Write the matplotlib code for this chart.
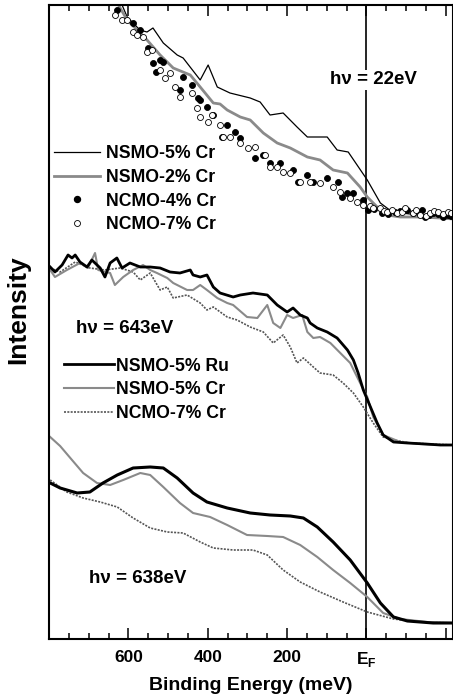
import numpy as np
import matplotlib
matplotlib.use("Agg")
import matplotlib.pyplot as plt
from matplotlib.lines import Line2D
from matplotlib.ticker import MultipleLocator, FixedLocator

plt.rcParams['font.family'] = ['Liberation Sans', 'DejaVu Sans']
plt.rcParams['font.weight'] = 'bold'
plt.rcParams['mathtext.fontset'] = 'custom'
plt.rcParams['mathtext.rm'] = 'Liberation Sans:bold'
plt.rcParams['mathtext.bf'] = 'Liberation Sans:bold'

# ---- hv = 22 eV (top) ----
e_nsmo5cr_22 = [618, 603, 571, 553, 538, 512, 477, 462, 419, 399, 376, 344, 293, 268, 243, 210,
                175, 149, 99, 74, 46, -2, -35, -65, -110, -161, -219]
i_nsmo5cr_22 = [636, 622, 609, 607, 611, 596, 584, 581, 559, 574, 552, 546, 541, 537, 524, 526,
                512, 502, 502, 489, 487, 459, 436, 427, 425, 423, 424]

e_nsmo2cr_22 = [628, 603, 553, 520, 487, 444, 419, 386, 369, 351, 318, 293, 260, 225, 192, 149,
                117, 84, 48, 16, -2, -27, -52, -85, -136, -186, -219]
i_nsmo2cr_22 = [636, 619, 599, 584, 571, 564, 552, 536, 535, 529, 522, 519, 506, 496, 491, 482,
                479, 469, 466, 452, 442, 432, 424, 422, 422, 421, 420]

e_ncmo4cr_22 = [628, 588, 571, 550, 538, 520, 512, 530, 462, 470, 439, 424, 419, 402, 386, 351,
                364, 331, 318, 281, 260, 243, 217, 185, 172, 149, 134, 99, 71, 61, 48, 33,
                8, -5, -20, -40, -55, -73, -85, -103, -116, -130, -141, -148, -158, -168, -180,
                -194, -206, -212]
i_ncmo4cr_22 = [629, 616, 609, 591, 576, 579, 577, 567, 562, 549, 554, 541, 539, 532, 524, 514,
                502, 507, 501, 481, 484, 476, 476, 469, 457, 464, 457, 461, 457, 442, 446, 446,
                439, 429, 430, 426, 425, 427, 428, 429, 426, 427, 429, 422, 424, 426, 425,
                422, 424, 423]

e_ncmo7cr_22 = [634, 616, 603, 588, 578, 563, 553, 540, 520, 507, 495, 482, 470, 439, 427, 419,
                399, 389, 369, 361, 344, 318, 298, 281, 255, 243, 225, 210, 192, 167, 142, 117,
                84, 66, 41, 23, 8, -10, -17, -35, -45, -52, -65, -78, -90, -98, -118, -125,
                -136, -150, -161, -170, -179, -192, -206, -214]
i_ncmo7cr_22 = [624, 619, 619, 607, 604, 602, 587, 589, 569, 561, 566, 552, 542, 546, 531, 522,
                517, 524, 514, 502, 502, 496, 491, 492, 484, 472, 472, 467, 466, 457, 457, 456,
                452, 447, 441, 437, 434, 433, 431, 431, 428, 427, 429, 426, 427, 431, 426, 429,
                424, 423, 426, 428, 427, 425, 427, 426]

# ---- hv = 643 eV (middle) ----
e_ru_643 = [797, 785, 767, 752, 742, 734, 722, 704, 692, 671, 659, 646, 629, 616, 596, 570, 545,
            520, 495, 470, 444, 437, 419, 402, 386, 369, 336, 318, 286, 250, 225, 200, 185, 167,
            149, 142, 124, 99, 74, 48, 33, 21, 8, -10, -27, -42, -68, -103, -148, -186, -219]
i_ru_643 = [372, 367, 374, 384, 381, 384, 377, 372, 379, 371, 362, 376, 381, 371, 376, 372, 372,
            371, 367, 366, 369, 364, 362, 364, 352, 346, 342, 344, 346, 344, 334, 327, 331, 324,
            321, 316, 311, 307, 301, 289, 279, 266, 249, 232, 216, 204, 197, 196, 195, 194, 194]

e_cr_643 = [797, 785, 755, 722, 702, 684, 676, 646, 634, 613, 588, 563, 545, 528, 502, 487, 452,
            437, 419, 402, 376, 351, 336, 301, 275, 250, 235, 217, 200, 185, 162, 149, 134, 117,
            91, 66, 41, 16, -2, -17, -42, -85, -136, -186, -219]
i_cr_643 = [369, 362, 369, 376, 371, 386, 369, 366, 354, 362, 369, 374, 369, 366, 361, 356, 349,
            349, 354, 349, 341, 336, 334, 322, 321, 334, 316, 311, 324, 321, 324, 307, 301, 302,
            296, 286, 276, 256, 242, 222, 204, 197, 195, 194, 194]

e_ncmo_643 = [797, 772, 734, 697, 659, 621, 588, 570, 545, 520, 502, 487, 452, 419, 402, 386, 351,
              326, 293, 260, 235, 210, 192, 175, 159, 134, 117, 84, 59, 33, 8, -17, -42, -68,
              -110, -161, -219]
i_ncmo_643 = [371, 367, 377, 371, 369, 371, 367, 359, 366, 349, 352, 341, 344, 336, 329, 332, 322,
              319, 312, 307, 296, 304, 292, 276, 281, 272, 266, 264, 256, 246, 232, 216, 202, 199,
              196, 195, 194]

# ---- hv = 638 eV (bottom) ----
e_ru_638 = [797, 772, 729, 697, 664, 628, 588, 545, 512, 477, 437, 402, 351, 293, 243, 192, 159,
            124, 84, 41, -2, -35, -68, -103, -168, -219]
i_ru_638 = [156, 151, 146, 147, 156, 164, 171, 172, 171, 161, 146, 137, 131, 126, 124, 123, 121,
            112, 97, 79, 56, 36, 22, 18, 16, 16]

e_cr_638 = [797, 772, 742, 714, 679, 646, 613, 570, 545, 512, 470, 437, 394, 351, 301, 250, 210,
            167, 124, 84, 41, -2, -42, -85, -153, -219]
i_cr_638 = [202, 193, 179, 166, 156, 154, 159, 166, 164, 152, 136, 126, 122, 114, 104, 103, 102,
            94, 82, 69, 56, 42, 26, 20, 17, 16]

e_ncmo_638 = [797, 755, 714, 671, 628, 588, 545, 502, 462, 419, 386, 336, 286, 250, 210, 167, 117,
              59, -2, -68, -136, -219]
i_ncmo_638 = [159, 147, 141, 137, 132, 121, 111, 107, 106, 97, 91, 89, 89, 84, 69, 57, 47,
              37, 27, 20, 17, 16]

xticks = [600, 400, 200, 0, -200]
xticklabels = ['600', '400', '200', r'$\mathrm{E}_\mathrm{F}$', '']

GRAY = '#8a8a8a'
DARK = '#555555'

fig = plt.figure(figsize=(4.53, 6.98), dpi=100)
ax = fig.add_axes([49 / 453, 59 / 698, 404 / 453, 634 / 698])

# top panel
ax.plot(e_nsmo5cr_22, i_nsmo5cr_22, color='black', lw=0.9)
ax.plot(e_nsmo2cr_22, i_nsmo2cr_22, color=GRAY, lw=2.0)
ax.plot(e_ncmo4cr_22, i_ncmo4cr_22, 'o', ms=4.3, mfc='black', mec='black', mew=0.6)
ax.plot(e_ncmo7cr_22, i_ncmo7cr_22, 'o', ms=4.3, mfc='white', mec='black', mew=0.6)

# middle panel
ax.plot(e_ncmo_643, i_ncmo_643, color=DARK, lw=1.2, ls=(0, (1.2, 0.8)))
ax.plot(e_cr_643, i_cr_643, color=GRAY, lw=1.5)
ax.plot(e_ru_643, i_ru_643, color='black', lw=2.0)

# bottom panel
ax.plot(e_ncmo_638, i_ncmo_638, color=DARK, lw=1.2, ls=(0, (1.2, 0.8)))
ax.plot(e_cr_638, i_cr_638, color=GRAY, lw=1.5)
ax.plot(e_ru_638, i_ru_638, color='black', lw=2.2)

ax.axvline(0, color='black', lw=1.2, zorder=1)

ax.set_xlim(800, -218)
ax.set_ylim(0, 634)
ax.set_yticks([])
ax.xaxis.set_major_locator(FixedLocator(xticks))
ax.set_xticklabels(xticklabels)
ax.xaxis.set_minor_locator(MultipleLocator(50))
ax.tick_params(axis='x', which='both', direction='in', top=True, labelsize=12.5, pad=8)
ax.tick_params(axis='x', which='major', length=8, width=1.1)
ax.tick_params(axis='x', which='minor', length=4.5, width=1.1)
for s in ax.spines.values():
    s.set_linewidth(1.5)

ax.set_xlabel('Binding Energy (meV)', fontsize=14, fontweight='bold', labelpad=6)
ax.set_ylabel('Intensity', fontsize=19, fontweight='bold')
ax.yaxis.set_label_coords(-0.046, 0.519)

ax.text(0.802, 0.882, 'hν = 22eV', transform=ax.transAxes, fontsize=13.5, ha='center', va='center',
        bbox=dict(facecolor='white', edgecolor='none', pad=1))
ax.text(0.188, 0.49, 'hν = 643eV', transform=ax.transAxes, fontsize=13.5, ha='center', va='center')
ax.text(0.22, 0.096, 'hν = 638eV', transform=ax.transAxes, fontsize=13.5, ha='center', va='center')

h1 = [Line2D([], [], color='black', lw=0.9),
      Line2D([], [], color=GRAY, lw=2.0),
      Line2D([], [], ls='none', marker='o', ms=4.3, mfc='black', mec='black'),
      Line2D([], [], ls='none', marker='o', ms=4.3, mfc='white', mec='black', mew=0.6)]
leg1 = ax.legend(h1, ['NSMO-5% Cr', 'NSMO-2% Cr', 'NCMO-4% Cr', 'NCMO-7% Cr'],
                 loc='upper left', bbox_to_anchor=(0.012, 0.779), frameon=False, fontsize=12.7,
                 handlelength=2.6, handletextpad=0.35, labelspacing=0.38, borderpad=0,
                 borderaxespad=0)
ax.add_artist(leg1)

h2 = [Line2D([], [], color='black', lw=2.0),
      Line2D([], [], color=GRAY, lw=1.5),
      Line2D([], [], color=DARK, lw=1.2, ls=(0, (1.2, 0.8)))]
ax.legend(h2, ['NSMO-5% Ru', 'NSMO-5% Cr', 'NCMO-7% Cr'],
          loc='upper left', bbox_to_anchor=(0.038, 0.444), frameon=False, fontsize=12.7,
          handlelength=2.8, handletextpad=0.15, labelspacing=0.38, borderpad=0,
          borderaxespad=0)

fig.savefig('out.png', dpi=100)
